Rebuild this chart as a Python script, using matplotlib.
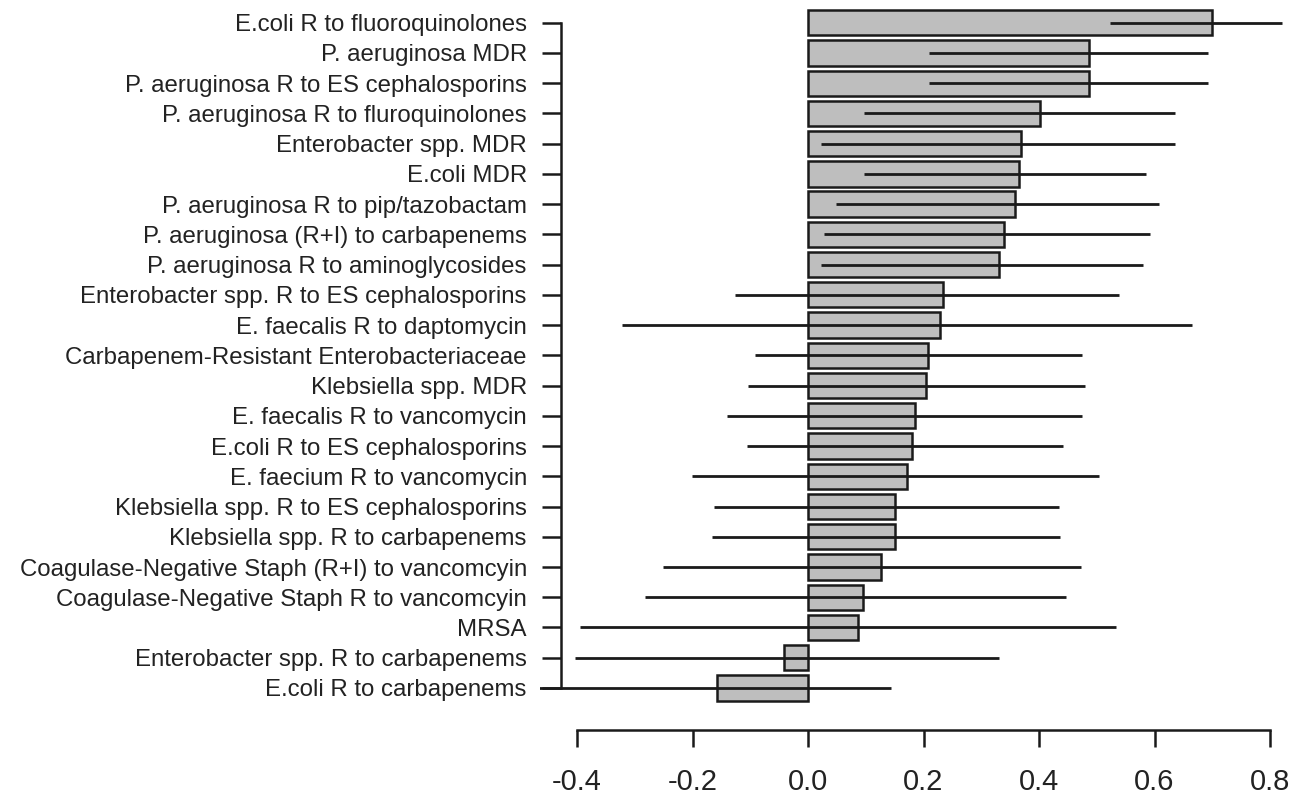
import matplotlib
matplotlib.use("Agg")
import matplotlib.pyplot as plt
import numpy as np

categories = [
    "E.coli R to fluoroquinolones",
    "P. aeruginosa MDR",
    "P. aeruginosa R to ES cephalosporins",
    "P. aeruginosa R to fluroquinolones",
    "Enterobacter spp. MDR",
    "E.coli MDR",
    "P. aeruginosa R to pip/tazobactam",
    "P. aeruginosa (R+I) to carbapenems",
    "P. aeruginosa R to aminoglycosides",
    "Enterobacter spp. R to ES cephalosporins",
    "E. faecalis R to daptomycin",
    "Carbapenem-Resistant Enterobacteriaceae",
    "Klebsiella spp. MDR",
    "E. faecalis R to vancomycin",
    "E.coli R to ES cephalosporins",
    "E. faecium R to vancomycin",
    "Klebsiella spp. R to ES cephalosporins",
    "Klebsiella spp. R to carbapenems",
    "Coagulase-Negative Staph (R+I) to vancomcyin",
    "Coagulase-Negative Staph R to vancomcyin",
    "MRSA",
    "Enterobacter spp. R to carbapenems",
    "E.coli R to carbapenems",
]
estimate = [0.700, 0.486, 0.486, 0.401, 0.368, 0.365, 0.358, 0.340, 0.330,
            0.233, 0.229, 0.208, 0.205, 0.185, 0.180, 0.172, 0.151, 0.150,
            0.126, 0.095, 0.087, -0.042, -0.157]
ci_low = [0.523, 0.209, 0.209, 0.097, 0.022, 0.097, 0.049, 0.027, 0.022,
          -0.127, -0.322, -0.092, -0.104, -0.140, -0.106, -0.201, -0.163, -0.167,
          -0.252, -0.283, -0.395, -0.403, -0.470]
ci_high = [0.820, 0.693, 0.693, 0.636, 0.636, 0.585, 0.608, 0.592, 0.580,
           0.538, 0.664, 0.474, 0.480, 0.474, 0.441, 0.503, 0.435, 0.437,
           0.472, 0.447, 0.534, 0.331, 0.143]
xticks = [-0.4, -0.2, 0.0, 0.2, 0.4, 0.6, 0.8]

plt.rcParams['font.family'] = ['Liberation Sans', 'DejaVu Sans']

fig = plt.figure(figsize=(13.1, 8.0), dpi=100)
ax = fig.add_axes([539.5 / 1310, 70 / 800, 765.2 / 1310, 730 / 800])

ypos = np.arange(len(categories))
ax.barh(ypos, estimate, height=0.837, left=0, color='#BEBEBE',
        edgecolor='#1a1a1a', linewidth=1.8, zorder=2)
ax.hlines(ypos, ci_low, ci_high, color='#1a1a1a', linewidth=2.0, zorder=3)

ax.set_xlim(-0.465, 0.86)
ax.set_ylim(23.39, -0.75)

for s in ['top', 'right']:
    ax.spines[s].set_visible(False)
ax.spines['left'].set_position(('data', -0.428))
ax.spines['left'].set_bounds(0, len(categories) - 1)
ax.spines['bottom'].set_bounds(xticks[0], xticks[-1])
for s in ['left', 'bottom']:
    ax.spines[s].set_linewidth(1.8)
    ax.spines[s].set_color('#1a1a1a')

ax.set_yticks(ypos)
ax.set_yticklabels(categories)
ax.set_xticks(xticks)
ax.set_xticklabels([f"{v:.1f}" for v in xticks])
ax.tick_params(axis='y', length=13.5, width=1.8, pad=11, labelsize=17.3,
               colors='#1a1a1a', labelcolor='#222222')
ax.tick_params(axis='x', length=12, width=1.8, pad=15, labelsize=21,
               colors='#1a1a1a', labelcolor='#222222')

fig.savefig('out.png', dpi=100)
